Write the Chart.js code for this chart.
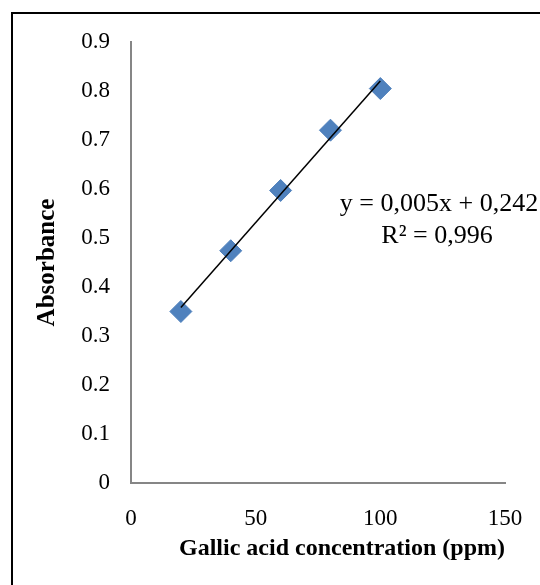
<!DOCTYPE html>
<html>
<head>
<meta charset="utf-8">
<script src="https://cdn.jsdelivr.net/npm/chart.js@4/dist/chart.umd.min.js"></script>
<style>
  html, body { margin: 0; padding: 0; background: #fff; }
  #wrap { width: 540px; height: 585px; position: relative; }
</style>
</head>
<body>
<div id="wrap"><canvas id="myChart" width="540" height="585"></canvas></div>
<script>
// Gallic acid standard curve
var concentration = [20, 40, 60, 80, 100];
var absorbance = [0.350, 0.474, 0.597, 0.720, 0.805];
var yTickLabels = ['0', '0.1', '0.2', '0.3', '0.4', '0.5', '0.6', '0.7', '0.8', '0.9'];
var xTickLabels = ['0', '50', '100', '150'];
var equationLines = ['y = 0,005x + 0,242', 'R² = 0,996'];

// least squares fit for the trendline
var n = concentration.length, sx = 0, sy = 0, sxy = 0, sxx = 0;
for (var i = 0; i < n; i++) {
    sx += concentration[i]; sy += absorbance[i];
    sxy += concentration[i] * absorbance[i];
    sxx += concentration[i] * concentration[i];
}
var slope = (n * sxy - sx * sy) / (n * sxx - sx * sx);
var intercept = (sy - slope * sx) / n;
var xFirst = concentration[0], xLast = concentration[n - 1];
var trend = [
    { x: xFirst, y: intercept + slope * xFirst },
    { x: xLast, y: intercept + slope * xLast }
];
var points = concentration.map(function (c, i) { return { x: c, y: absorbance[i] }; });

var serif = "'Liberation Serif', 'Times New Roman', serif";

var framePlugin = {
    id: 'frame',
    beforeDraw: function (chart) {
        var c = chart.ctx;
        c.save();
        c.fillStyle = '#fff';
        c.fillRect(0, 0, chart.width, chart.height);
        c.strokeStyle = '#000';
        c.lineWidth = 2;
        c.strokeRect(12, 13, 700, 700);
        c.restore();
    },
    afterDraw: function (chart) {
        var c = chart.ctx, a = chart.chartArea;
        c.save();
        c.fillStyle = '#000';
        c.font = '26px ' + serif;
        c.textAlign = 'center';
        c.textBaseline = 'middle';
        c.fillText(equationLines[0], a.right - 66, a.top + 162);
        c.fillText(equationLines[1], a.right - 68, a.top + 194);
        c.restore();
    }
};

var ctx = document.getElementById('myChart').getContext('2d');
var myChart = new Chart(ctx, {
    type: 'scatter',
    data: {
        datasets: [{
            label: 'Trendline',
            data: trend,
            showLine: true,
            borderColor: '#000',
            borderWidth: 1.5,
            pointRadius: 0,
            order: 0
        }, {
            label: 'Absorbance',
            data: points,
            pointStyle: 'rectRot',
            pointRadius: 11,
            pointBackgroundColor: '#4F81BD',
            pointBorderColor: '#4F81BD',
            pointBorderWidth: 1,
            order: 1
        }]
    },
    options: {
        responsive: false,
        animation: false,
        events: [],
        layout: { padding: { top: 42, right: 35, left: 0, bottom: 0 } },
        plugins: {
            legend: { display: false },
            tooltip: { enabled: false }
        },
        scales: {
            x: {
                type: 'linear',
                min: 0,
                max: 150,
                grid: { display: false, drawTicks: false },
                border: { display: true, color: '#868686', width: 2 },
                ticks: {
                    stepSize: 50,
                    padding: 22,
                    color: '#000',
                    font: { family: serif, size: 23 },
                    callback: function (v, idx) { return xTickLabels[idx]; }
                },
                title: {
                    display: true,
                    text: 'Gallic acid concentration (ppm)',
                    align: 'end',
                    color: '#000',
                    font: { family: serif, size: 24, weight: 'bold' },
                    padding: { top: 0, bottom: 22 }
                },
                afterFit: function (scale) {
                    scale.height = 102;
                    scale.paddingLeft = 0;
                    scale.paddingRight = 0;
                }
            },
            y: {
                min: 0,
                max: 0.9,
                grid: { display: false, drawTicks: false },
                border: { display: true, color: '#868686', width: 2 },
                ticks: {
                    stepSize: 0.1,
                    padding: 21,
                    color: '#000',
                    font: { family: serif, size: 23 },
                    callback: function (v, idx) { return yTickLabels[idx]; }
                },
                title: {
                    display: true,
                    text: 'Absorbance',
                    color: '#000',
                    font: { family: serif, size: 25, weight: 'bold' },
                    padding: { top: 33, bottom: 0 }
                },
                afterFit: function (scale) { scale.width = 131; }
            }
        }
    },
    plugins: [framePlugin]
});
</script>
</body>
</html>
